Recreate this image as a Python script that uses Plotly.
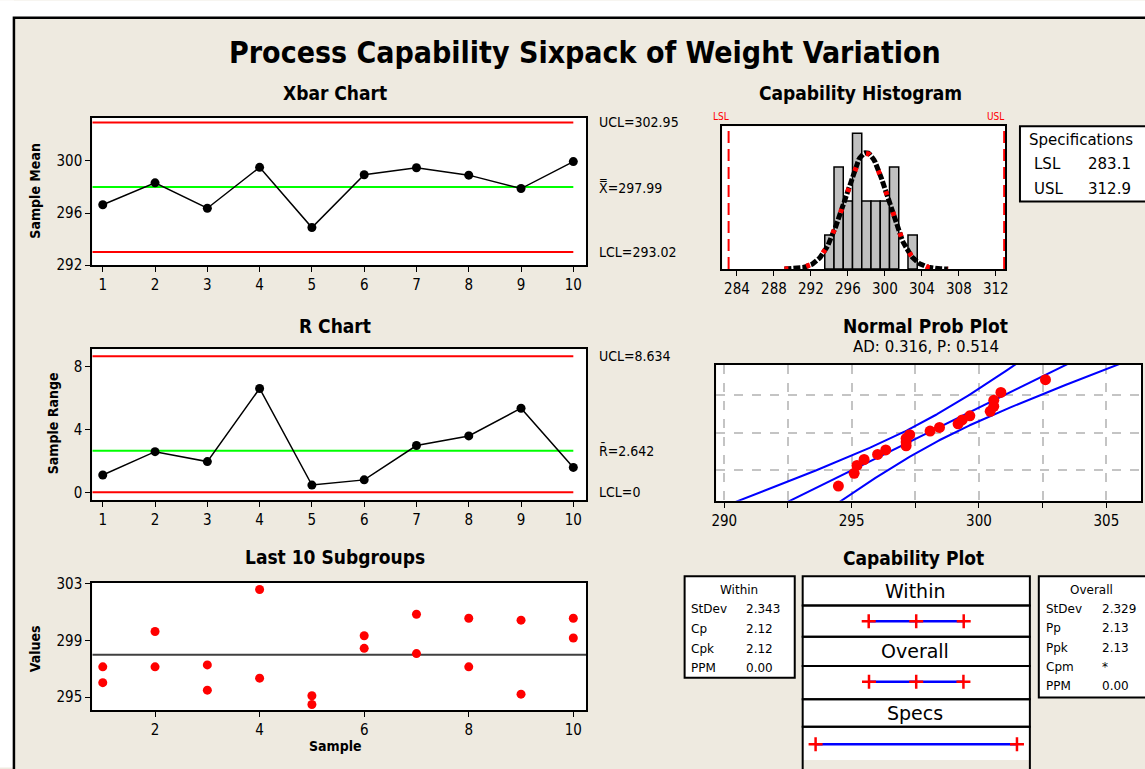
import plotly.graph_objects as go
from statistics import NormalDist
import math

W, H = 1145, 769

# ---------------- data ----------------
samples = [1, 2, 3, 4, 5, 6, 7, 8, 9, 10]
xbar_means = [296.64, 298.32, 296.37, 299.51, 294.89, 298.94, 299.48, 298.91, 297.88, 299.95]
sample_ranges = [1.10, 2.58, 1.95, 6.59, 0.46, 0.79, 2.97, 3.58, 5.34, 1.58]
obs_first = [297.14, 299.64, 297.28, 302.61, 295.10, 299.34, 300.86, 300.58, 300.44, 300.58]
obs_second = [296.02, 297.14, 295.49, 296.34, 294.48, 298.45, 298.08, 297.14, 295.21, 299.18]

xbar_ucl, xbar_center, xbar_lcl = 302.95, 297.99, 293.02
r_ucl, r_center, r_lcl = 8.634, 2.642, 0.0
lsl, usl = 283.1, 312.9
stdev_within, stdev_overall = 2.343, 2.329
ad_stat, p_value = 0.316, 0.514
hist_bin_start, hist_bin_end, hist_bin_size = 293.5, 303.5, 1.0
within_stats = [("StDev", "2.343"), ("Cp", "2.12"), ("Cpk", "2.12"), ("PPM", "0.00")]
overall_stats = [("StDev", "2.329"), ("Pp", "2.13"), ("Ppk", "2.13"), ("Cpm", "*"), ("PPM", "0.00")]

# ---------------- helpers ----------------
def px(x):
    return x / W

def py(y):
    return 1 - y / H

COND = "DejaVu Sans Condensed, Liberation Sans Narrow, Arial Narrow, DejaVu Sans, sans-serif"
REG = "DejaVu Sans, Verdana, sans-serif"
BEIGE = "#EEEAE0"
RED = "#FF0000"
GREEN = "#00FF00"
BLUE = "#0000FF"

fig = go.Figure()

# ---------------- Xbar chart ----------------
fig.add_trace(go.Scatter(x=[0.8, 10], y=[xbar_ucl] * 2, mode="lines", line=dict(color=RED, width=2), xaxis="x", yaxis="y"))
fig.add_trace(go.Scatter(x=[0.8, 10], y=[xbar_lcl] * 2, mode="lines", line=dict(color=RED, width=2), xaxis="x", yaxis="y"))
fig.add_trace(go.Scatter(x=[0.8, 10], y=[xbar_center] * 2, mode="lines", line=dict(color=GREEN, width=2), xaxis="x", yaxis="y"))
fig.add_trace(go.Scatter(x=samples, y=xbar_means, mode="lines+markers", line=dict(color="black", width=1.5),
                         marker=dict(color="black", size=9), xaxis="x", yaxis="y"))

# ---------------- R chart ----------------
fig.add_trace(go.Scatter(x=[0.8, 10], y=[r_ucl] * 2, mode="lines", line=dict(color=RED, width=2), xaxis="x2", yaxis="y2"))
fig.add_trace(go.Scatter(x=[0.8, 10], y=[r_lcl] * 2, mode="lines", line=dict(color=RED, width=2), xaxis="x2", yaxis="y2"))
fig.add_trace(go.Scatter(x=[0.8, 10], y=[r_center] * 2, mode="lines", line=dict(color=GREEN, width=2), xaxis="x2", yaxis="y2"))
fig.add_trace(go.Scatter(x=samples, y=sample_ranges, mode="lines+markers", line=dict(color="black", width=1.5),
                         marker=dict(color="black", size=9), xaxis="x2", yaxis="y2"))

# ---------------- Last 10 subgroups ----------------
fig.add_trace(go.Scatter(x=[0.8, 10.25], y=[xbar_center] * 2, mode="lines", line=dict(color="#404040", width=2), xaxis="x3", yaxis="y3"))
fig.add_trace(go.Scatter(x=samples + samples, y=obs_first + obs_second, mode="markers",
                         marker=dict(color=RED, size=9), xaxis="x3", yaxis="y3"))

# ---------------- Capability histogram ----------------
all_obs = obs_first + obs_second
n_obs = len(all_obs)
fig.add_trace(go.Histogram(x=all_obs, xbins=dict(start=hist_bin_start, end=hist_bin_end, size=hist_bin_size),
                           marker=dict(color="#C0C0C0", line=dict(color="black", width=1.5)),
                           xaxis="x4", yaxis="y4"))
nd_o = NormalDist(xbar_center, stdev_overall)
nd_w = NormalDist(xbar_center, stdev_within)
cx = [xbar_center - 3.8 * stdev_overall + i * (7.6 * stdev_overall) / 150 for i in range(151)]
fig.add_trace(go.Scatter(x=cx, y=[n_obs * hist_bin_size * nd_o.pdf(v) for v in cx], mode="lines",
                         line=dict(color="black", width=5, dash="7px,2px"), xaxis="x4", yaxis="y4"))
fig.add_trace(go.Scatter(x=cx, y=[n_obs * hist_bin_size * nd_w.pdf(v) for v in cx], mode="lines",
                         line=dict(color=RED, width=5, dash="4px,18px"), xaxis="x4", yaxis="y4"))
for spec in (lsl, usl):
    fig.add_trace(go.Scatter(x=[spec, spec], y=[0, 4.2], mode="lines",
                             line=dict(color=RED, width=2, dash="12px,6px"), xaxis="x4", yaxis="y4"))

# ---------------- Normal probability plot ----------------
std_norm = NormalDist()
sorted_obs = sorted(all_obs)
z_pos = [std_norm.inv_cdf((i + 1 - 0.3) / (n_obs + 0.4)) for i in range(n_obs)]
zz = [-2.7 + i * 5.4 / 200 for i in range(201)]
fit = [xbar_center + stdev_overall * z for z in zz]
half = [1.96 * stdev_overall * math.sqrt(1 / n_obs + z * z / (2 * (n_obs - 1))) for z in zz]
for series in (fit, [f - h for f, h in zip(fit, half)], [f + h for f, h in zip(fit, half)]):
    fig.add_trace(go.Scatter(x=series, y=zz, mode="lines", line=dict(color=BLUE, width=2), xaxis="x5", yaxis="y5"))
fig.add_trace(go.Scatter(x=sorted_obs, y=z_pos, mode="markers", marker=dict(color=RED, size=11),
                         xaxis="x5", yaxis="y5"))

# ---------------- Capability plot ----------------
row_y = {"within": 627, "overall": 689, "specs": 753}
w_pts = [xbar_center - 3 * stdev_within, xbar_center, xbar_center + 3 * stdev_within]
o_pts = [xbar_center - 3 * stdev_overall, xbar_center, xbar_center + 3 * stdev_overall]
s_pts = [lsl, usl]
for pts, key in ((w_pts, "within"), (o_pts, "overall"), (s_pts, "specs")):
    fig.add_trace(go.Scatter(x=pts, y=[row_y[key]] * len(pts), mode="lines+markers",
                             line=dict(color=BLUE, width=2.5),
                             marker=dict(symbol="cross-thin", size=10, line=dict(color=RED, width=2.5), color=RED),
                             xaxis="x6", yaxis="y6"))

# ---------------- axes ----------------
tickfont = dict(family=COND, size=15, color="black")

def ax(**kw):
    d = dict(showline=True, mirror=True, linecolor="black", linewidth=2, ticks="outside", ticklen=5,
             tickwidth=1, tickcolor="black", showgrid=False, zeroline=False, tickfont=tickfont,
             fixedrange=True)
    d.update(kw)
    return d

layout_axes = dict(
    xaxis=ax(domain=[px(88), px(586)], range=[0.8, 10.25], tickvals=samples, anchor="y"),
    yaxis=ax(domain=[py(263), py(112)], range=[292, 303.33], tickvals=[292, 296, 300], anchor="x"),
    xaxis2=ax(domain=[px(88), px(586)], range=[0.8, 10.25], tickvals=samples, anchor="y2"),
    yaxis2=ax(domain=[py(503), py(349)], range=[-0.48, 9.08], tickvals=[0, 4, 8], anchor="x2"),
    xaxis3=ax(domain=[px(88), px(586)], range=[0.8, 10.25], tickvals=[2, 4, 6, 8, 10], anchor="y3"),
    yaxis3=ax(domain=[py(718), py(588)], range=[294.08, 303.07], tickvals=[295, 299, 303], anchor="x3"),
    xaxis4=ax(domain=[px(723), px(1008)], range=[282.42, 313.0], tickvals=[284, 288, 292, 296, 300, 304, 308, 312], anchor="y4"),
    yaxis4=ax(domain=[py(267), py(121)], range=[0, 4.2], showticklabels=False, ticks="", anchor="x4"),
    xaxis5=ax(domain=[px(717), 1.0], range=[289.69, 306.36],
              tickvals=[290, 292.5, 295, 297.5, 300, 302.5, 305],
              ticktext=["290", "", "295", "", "300", "", "305"],
              showgrid=True, gridcolor="#C4C4C4", gridwidth=2, griddash="dash", anchor="y5"),
    yaxis5=ax(domain=[py(504), py(365)], range=[-2.326, 2.326],
              tickvals=[-1.2816, 0, 1.2816], showticklabels=False, ticks="",
              showgrid=True, gridcolor="#C4C4C4", gridwidth=2, griddash="dash", anchor="x5"),
    xaxis6=dict(domain=[px(804), px(1033)], range=[281.19, 314.81], visible=False, fixedrange=True, anchor="y6"),
    yaxis6=dict(domain=[0, py(581)], range=[769, 581], visible=False, fixedrange=True, anchor="x6"),
)

# ---------------- shapes ----------------
shapes = []
shapes.append(dict(type="rect", xref="paper", yref="paper", x0=-0.01, x1=1.01, y0=py(10), y1=1.01,
                   fillcolor="white", line=dict(width=0), layer="below"))
shapes.append(dict(type="rect", xref="paper", yref="paper", x0=-0.01, x1=px(9), y0=-0.01, y1=1.01,
                   fillcolor="white", line=dict(width=0), layer="below"))
shapes.append(dict(type="rect", xref="paper", yref="paper", x0=px(9), x1=1.05, y0=-0.05, y1=py(10),
                   line=dict(color="black", width=2.5), fillcolor="rgba(0,0,0,0)"))

def box(x0, y0, x1, y1, fill="white"):
    shapes.append(dict(type="rect", xref="paper", yref="paper", x0=px(x0), x1=px(x1), y0=py(y1), y1=py(y0),
                       line=dict(color="black", width=2), fillcolor=fill))

box(1023, 121, 1160, 198)          # specifications
box(685, 581, 796, 685)            # within table
box(1042, 581, 1160, 705)          # overall table
for (a, b) in ((581, 611), (611, 643), (643, 673), (673, 707), (707, 735), (735, 780)):
    box(804, a, 1033, b, fill="rgba(0,0,0,0)")

# ---------------- annotations ----------------
ann = []

def text(x, y, t, size=14, family=COND, color="black", xanchor="center", yanchor="middle", angle=0, xref="paper", yref="paper"):
    ann.append(dict(x=x, y=y, xref=xref, yref=yref, text=t, showarrow=False, xanchor=xanchor, yanchor=yanchor,
                    textangle=angle, font=dict(family=family, size=size, color=color)))

text(px(585), py(45), "<b>Process Capability Sixpack of Weight Variation</b>", size=30)
text(px(333), py(87), "<b>Xbar Chart</b>", size=19)
text(px(333), py(325), "<b>R Chart</b>", size=19)
text(px(333), py(561), "<b>Last 10 Subgroups</b>", size=19)
text(px(862), py(87), "<b>Capability Histogram</b>", size=19)
text(px(928), py(325), "<b>Normal Prob Plot</b>", size=19)
text(px(928), py(347), f"AD: {ad_stat:.3f}, P: {p_value:.3f}", size=15, family=REG)
text(px(916), py(562), "<b>Capability Plot</b>", size=19)

text(px(30), py(187), "<b>Sample Mean</b>", size=14, angle=-90)
text(px(48), py(425), "<b>Sample Range</b>", size=14, angle=-90)
text(px(30), py(655), "<b>Values</b>", size=14, angle=-90)
text(px(333), py(755), "<b>Sample</b>", size=14)

text(px(597), xbar_ucl, f"UCL={xbar_ucl:.2f}", xanchor="left", yref="y")
text(px(597), xbar_center, f"X\u033f={xbar_center:.2f}", xanchor="left", yref="y")
text(px(597), xbar_lcl, f"LCL={xbar_lcl:.2f}", xanchor="left", yref="y")
text(px(597), r_ucl, f"UCL={r_ucl:.3f}", xanchor="left", yref="y2")
text(px(597), r_center, f"R\u0304={r_center:.3f}", xanchor="left", yref="y2")
text(px(597), r_lcl, f"LCL={r_lcl:g}", xanchor="left", yref="y2")

text(px(722), py(111), "LSL", size=10, color=RED)
text(px(998), py(111), "USL", size=10, color=RED)

text(px(1030), py(135), "Specifications", size=15, family=REG, xanchor="left")
text(px(1035), py(160), "LSL", size=15, family=REG, xanchor="left")
text(px(1090), py(160), f"{lsl:.1f}", size=15, family=REG, xanchor="left")
text(px(1035), py(185), "USL", size=15, family=REG, xanchor="left")
text(px(1090), py(185), f"{usl:.1f}", size=15, family=REG, xanchor="left")

text(px(740), py(595), "Within", size=12, family=REG)
for i, (k, v) in enumerate(within_stats):
    yy = 615 + 20 * i
    text(px(689), py(yy), k, size=12, family=REG, xanchor="left")
    text(px(745), py(yy), v, size=12, family=REG, xanchor="left")
text(px(1095), py(595), "Overall", size=12, family=REG)
for i, (k, v) in enumerate(overall_stats):
    yy = 615 + 19.5 * i
    text(px(1047), py(yy), k, size=12, family=REG, xanchor="left")
    text(px(1104), py(yy), v, size=12, family=REG, xanchor="left")

text(px(917), py(596), "Within", size=19, family=REG)
text(px(917), py(658), "Overall", size=19, family=REG)
text(px(917), py(721), "Specs", size=19, family=REG)

fig.update_layout(
    width=W, height=H, margin=dict(l=0, r=0, t=0, b=0),
    paper_bgcolor=BEIGE, plot_bgcolor="white",
    showlegend=False, bargap=0, hovermode=False,
    shapes=shapes, annotations=ann,
    **layout_axes,
)

fig.write_html("out.html",
               config={"displayModeBar": False, "staticPlot": True},
               post_script="document.documentElement.style.margin='0';document.body.style.margin='0';"
                           "document.body.style.overflow='hidden';document.documentElement.style.overflow='hidden';")
